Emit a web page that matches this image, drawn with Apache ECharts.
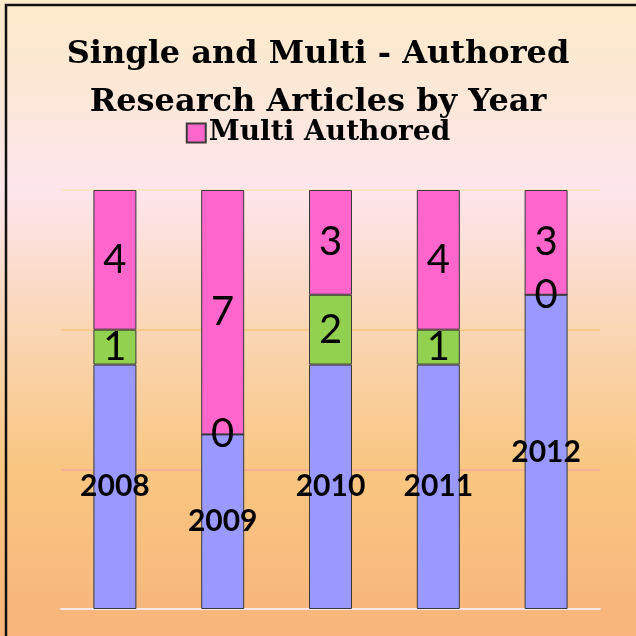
<!DOCTYPE html>
<html>
<head>
<meta charset="utf-8">
<script src="https://cdn.jsdelivr.net/npm/echarts@6/dist/echarts.min.js"></script>
<style>
  html, body { margin: 0; padding: 0; }
  #chart { width: 636px; height: 636px; }
</style>
</head>
<body>
<div id="chart"></div>
<script>
// data
var years = ['2008', '2009', '2010', '2011', '2012'];
var yearPart = [7, 5, 7, 7, 9];      // blue segment, labelled with the year
var singleAuthored = [1, 0, 2, 1, 0];
var multiAuthored = [4, 7, 3, 4, 3];
var yTicks = [0, 4, 8, 12];

var myChart = echarts.init(document.getElementById('chart'));

var numLabel = {
    show: true,
    position: 'inside',
    color: '#000',
    fontFamily: 'Lato',
    fontSize: 40
};

var option = {
    backgroundColor: {
        type: 'linear', x: 0, y: 0, x2: 0, y2: 1,
        colorStops: [
            {offset: 0, color: '#fdebcb'},
            {offset: 0.12, color: '#fce8d4'},
            {offset: 0.3, color: '#fde5ec'},
            {offset: 0.52, color: '#fad6b4'},
            {offset: 0.74, color: '#f9c680'},
            {offset: 1, color: '#f8b47c'}
        ]
    },
    graphic: [{
        type: 'rect',
        shape: {x: 6, y: 5, width: 660, height: 660},
        style: {fill: 'none', stroke: '#111', lineWidth: 2.5},
        silent: true
    }],
    title: {
        text: 'Single and Multi - Authored\nResearch Articles by Year',
        left: 'center',
        top: 26,
        textStyle: {
            fontFamily: 'DejaVu Serif',
            fontWeight: 'bold',
            fontSize: 32,
            lineHeight: 48,
            color: '#000'
        }
    },
    legend: {
        data: ['Multi Authored'],
        left: 'center',
        top: 114,
        itemWidth: 19,
        itemHeight: 19,
        itemGap: 8,
        icon: 'rect',
        textStyle: {
            fontFamily: 'DejaVu Serif',
            fontWeight: 'bold',
            fontSize: 28,
            color: '#000',
            padding: [0, 0, 0, -2]
        }
    },
    grid: {left: 61, right: 36, top: 190, bottom: 27},
    xAxis: {
        type: 'category',
        data: years,
        axisLine: {show: true, lineStyle: {color: '#fde8e6', width: 2}},
        axisTick: {show: false},
        axisLabel: {show: false}
    },
    yAxis: {
        type: 'value',
        min: yTicks[0],
        max: yTicks[yTicks.length - 1],
        interval: 4,
        axisLine: {show: false},
        axisTick: {show: false},
        axisLabel: {show: false},
        splitLine: {
            show: true,
            lineStyle: {color: ['#fde8e6', '#f7b198', '#f9c98c', '#fbe6c2'], width: 2}
        }
    },
    series: [{
        name: 'Year',
        type: 'bar',
        stack: 'all',
        barWidth: 43,
        data: yearPart,
        itemStyle: {color: '#9999ff', borderColor: '#3a3a3a', borderWidth: 1},
        label: {
            show: true,
            position: 'inside',
            formatter: '{b}',
            color: '#000',
            fontFamily: 'Lato',
            fontWeight: 'bold',
            fontSize: 30
        }
    }, {
        name: 'Single Authored',
        type: 'bar',
        stack: 'all',
        data: singleAuthored,
        itemStyle: {color: '#92d050', borderColor: '#3a3a3a', borderWidth: 1},
        label: numLabel
    }, {
        name: 'Multi Authored',
        type: 'bar',
        stack: 'all',
        data: multiAuthored,
        itemStyle: {color: '#ff66cc', borderColor: '#3a3a3a', borderWidth: 1},
        label: numLabel
    }]
};

myChart.setOption(option);
</script>
</body>
</html>
